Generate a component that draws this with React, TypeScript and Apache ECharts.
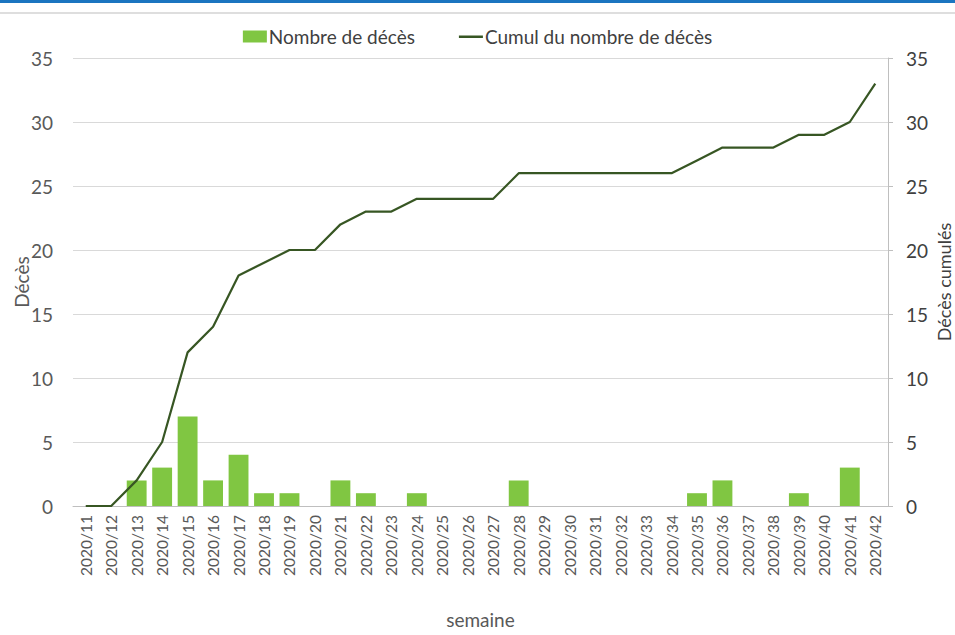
import React, { useEffect, useRef } from "react";
import * as echarts from "echarts";

const weeks = [
  "2020/11", "2020/12", "2020/13", "2020/14", "2020/15", "2020/16", "2020/17", "2020/18",
  "2020/19", "2020/20", "2020/21", "2020/22", "2020/23", "2020/24", "2020/25", "2020/26",
  "2020/27", "2020/28", "2020/29", "2020/30", "2020/31", "2020/32", "2020/33", "2020/34",
  "2020/35", "2020/36", "2020/37", "2020/38", "2020/39", "2020/40", "2020/41", "2020/42",
];
const deaths = [0, 0, 2, 3, 7, 2, 4, 1, 1, 0, 2, 1, 0, 1, 0, 0, 0, 2, 0, 0, 0, 0, 0, 0, 1, 2, 0, 0, 1, 0, 3, 0];
const cumulative = [0, 0, 2, 5, 12, 14, 18, 19, 20, 20, 22, 23, 23, 24, 24, 24, 24, 26, 26, 26, 26, 26, 26, 26, 27, 28, 28, 28, 29, 29, 30, 33];
const yTicks = { min: 0, max: 35, interval: 5 };

const FONT = "Lato, 'Open Sans', sans-serif";
const TXT = "#595959";
const LINE_ICON = "path://M0,0 L0.01,0 L0.01,0.01 Z M0,5 L24,5 L24,7.5 L0,7.5 Z M23.99,12 L24,12 L24,11.99 Z";

export default function App() {
  const ref = useRef<HTMLDivElement>(null);
  useEffect(() => {
    if (!ref.current) return;
    const chart = echarts.init(ref.current, null, { renderer: "svg" });
    chart.setOption({
      animation: false,
      backgroundColor: "#ffffff",
      textStyle: { fontFamily: FONT, color: TXT },
      graphic: [
        { type: "rect", shape: { x: 0, y: 0, width: 955, height: 3 }, style: { fill: "#1b75c0" } },
        { type: "rect", shape: { x: 0, y: 12, width: 955, height: 2 }, style: { fill: "#dedede" } },
      ],
      legend: {
        top: 22,
        left: "center",
        itemGap: 44,
        itemWidth: 24,
        itemHeight: 12,
        textStyle: { fontFamily: FONT, fontSize: 19, color: "#404040", padding: [0, 0, 0, -3] },
        data: [
          { name: "Nombre de décès", icon: "rect" },
          { name: "Cumul du nombre de décès", icon: LINE_ICON, itemStyle: { color: "#375623", borderWidth: 0 }, lineStyle: { width: 0 } },
        ],
      },
      grid: { left: 73, right: 67, top: 58, bottom: 129, containLabel: false, outerBoundsMode: "none" },
      xAxis: {
        type: "category",
        data: weeks,
        name: "semaine",
        nameLocation: "middle",
        nameGap: 104,
        nameMoveOverlap: false,
        nameTextStyle: { fontFamily: FONT, fontSize: 19, color: TXT },
        axisLine: { show: true, lineStyle: { color: "#bfbfbf", width: 1 } },
        axisTick: { show: false },
        axisLabel: { rotate: 90, interval: 0, margin: 9, fontFamily: FONT, fontSize: 15.5, color: TXT },
      },
      yAxis: [
        {
          type: "value",
          ...yTicks,
          name: "Décès",
          nameLocation: "middle",
          nameRotate: 90,
          nameGap: 42,
          nameMoveOverlap: false,
          nameTextStyle: { fontFamily: FONT, fontSize: 19, color: TXT },
          axisLine: { show: false },
          axisTick: { show: false },
          axisLabel: { margin: 20, fontFamily: FONT, fontSize: 19, color: TXT },
          splitLine: { show: true, lineStyle: { color: "#d9d9d9", width: 1 } },
        },
        {
          type: "value",
          position: "right",
          ...yTicks,
          name: "Décès cumulés",
          nameLocation: "middle",
          nameRotate: 90,
          nameGap: 47,
          nameMoveOverlap: false,
          nameTextStyle: { fontFamily: FONT, fontSize: 18, color: "#404040" },
          axisLine: { show: true, lineStyle: { color: "#bfbfbf", width: 1 } },
          axisTick: { show: true, length: 5, lineStyle: { color: "#bfbfbf" } },
          axisLabel: { margin: 18, fontFamily: FONT, fontSize: 19, color: "#404040" },
          splitLine: { show: false },
        },
      ],
      series: [
        {
          name: "Nombre de décès",
          type: "bar",
          yAxisIndex: 0,
          data: deaths,
          barCategoryGap: "22%",
          itemStyle: { color: "#80c642" },
        },
        {
          name: "Cumul du nombre de décès",
          type: "line",
          yAxisIndex: 1,
          data: cumulative,
          symbol: "none",
          lineStyle: { color: "#375623", width: 2.2 },
          itemStyle: { color: "#375623" },
        },
      ],
    });
    return () => chart.dispose();
  }, []);
  return (
    <div
      ref={ref}
      style={{ position: "fixed", left: 0, top: 0, width: 955, height: 635 }}
    />
  );
}
